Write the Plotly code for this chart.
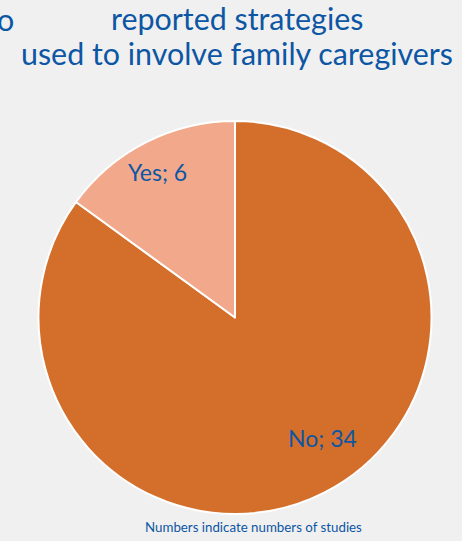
import math
import plotly.graph_objects as go

labels = ["No", "Yes"]
values = [34, 6]
colors = ["#d46f2b", "#f2a98b"]
label_radius = [0.76, 0.84]      # fraction of the pie radius where each label sits
label_angle_shift = [-9, -1.2]   # degrees, relative to the middle of the slice

title_lines = ["reported strategies", "used to involve family caregivers"]
footer = "Numbers indicate numbers of studies"

BLUE = "#0c56a4"
FONT = "Lato"

fig = go.Figure(go.Pie(
    labels=labels,
    values=values,
    sort=False,
    direction="clockwise",
    rotation=0,
    marker=dict(colors=colors, line=dict(color="white", width=2)),
    textinfo="none",
    showlegend=False,
    hoverinfo="label+value",
))

L, R, T, B = 38, 30, 121, 27
W, H = 462, 541
plot_h = H - T - B
plot_w = W - L - R
def px_x(x):
    return (x - L) / plot_w
def px_y(y):
    return (H - B - y) / plot_h

# label positions around the middle angle of each slice (clockwise from 12 o'clock)
total = sum(values)
cx, cy = 0.5, 0.5
rad = min(plot_w, plot_h) / 2
annotations = []
cum = 0
for lab, val, rf, sh in zip(labels, values, label_radius, label_angle_shift):
    mid = (cum + val / 2) / total * 2 * math.pi + math.radians(sh)
    cum += val
    dx = rf * rad * math.sin(mid)
    dy = rf * rad * math.cos(mid)
    annotations.append(dict(
        text=f"{lab}; {val}", x=cx + dx / plot_w, y=cy + dy / plot_h,
        xref="paper", yref="paper", showarrow=False,
        font=dict(family=FONT, size=23, color=BLUE),
        xanchor="center", yanchor="middle"))

annotations += [
    dict(text=title_lines[0], x=px_x(237), y=px_y(31), xref="paper", yref="paper",
         showarrow=False, font=dict(family=FONT, size=30.4, color=BLUE),
         xanchor="center", yanchor="bottom", yshift=-7),
    dict(text=title_lines[1], x=px_x(237), y=px_y(66), xref="paper", yref="paper",
         showarrow=False, font=dict(family=FONT, size=30.4, color=BLUE),
         xanchor="center", yanchor="bottom", yshift=-7),
    dict(text="o", x=px_x(-5), y=px_y(32), xref="paper", yref="paper",
         showarrow=False, font=dict(family=FONT, size=30.4, color=BLUE),
         xanchor="left", yanchor="bottom", yshift=-7),
    dict(text=footer, x=px_x(253), y=px_y(537), xref="paper", yref="paper",
         showarrow=False, font=dict(family=FONT, size=13.3, color=BLUE),
         xanchor="center", yanchor="bottom"),
]

fig.update_layout(
    width=W, height=H,
    margin=dict(l=L, r=R, t=T, b=B),
    paper_bgcolor="#f0f0f0",
    plot_bgcolor="#f0f0f0",
    font=dict(family=FONT, color=BLUE),
    annotations=annotations,
)

fig.write_html("out.html")
